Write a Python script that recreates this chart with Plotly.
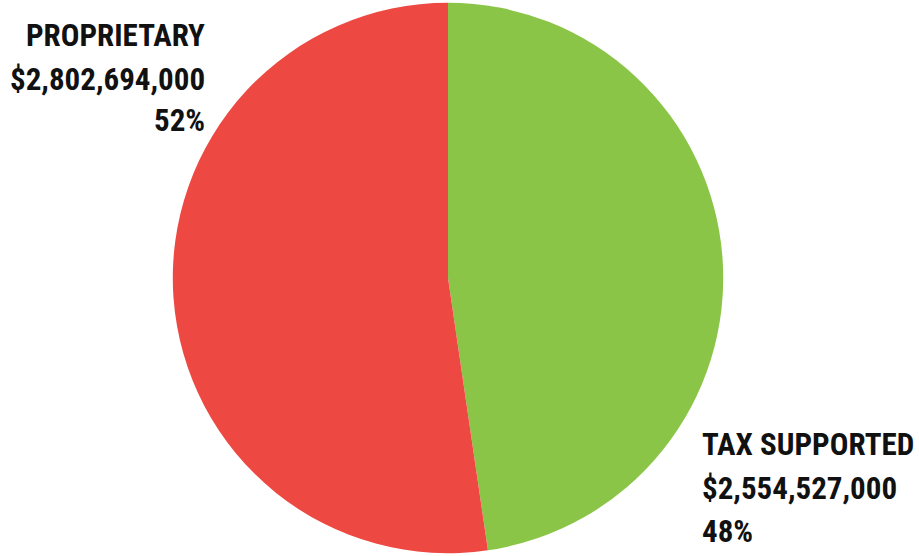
import plotly.graph_objects as go

labels = ["TAX SUPPORTED", "PROPRIETARY"]
values = [2554527000, 2802694000]
colors = ["#8AC547", "#EE4842"]

total = sum(values)
lines = []
for lab, v in zip(labels, values):
    pct = round(v / total * 100)
    lines.append([lab, f"${v:,}", f"{pct}%"])

fig = go.Figure()
fig.add_trace(go.Pie(
    labels=labels,
    values=values,
    marker=dict(colors=colors, line=dict(width=0)),
    sort=False,
    direction="clockwise",
    rotation=0,
    textinfo="none",
    showlegend=False,
    domain=dict(x=[0.1875, 0.7875], y=[0.005, 0.995]),
))

font = dict(family="Roboto Condensed, Roboto, sans-serif", size=31, color="#111111", weight="bold")

# label blocks: (line list, x px, anchor, cap-centre y px of each line)
blocks = [
    (lines[1], 207, "right", [35, 79, 121]),
    (lines[0], 700, "left", [444, 488, 531]),
]
for block_lines, xpx, anchor, ys in blocks:
    for txt, ypx in zip(block_lines, ys):
        fig.add_annotation(
            text=txt, xref="paper", yref="paper",
            x=xpx / 919, y=1 - ypx / 556, xanchor=anchor, yanchor="middle",
            align=anchor, showarrow=False, font=font,
        )

fig.update_layout(
    width=919, height=556,
    margin=dict(l=0, r=0, t=0, b=0),
    paper_bgcolor="white", plot_bgcolor="white",
)
fig.write_html("out.html")
